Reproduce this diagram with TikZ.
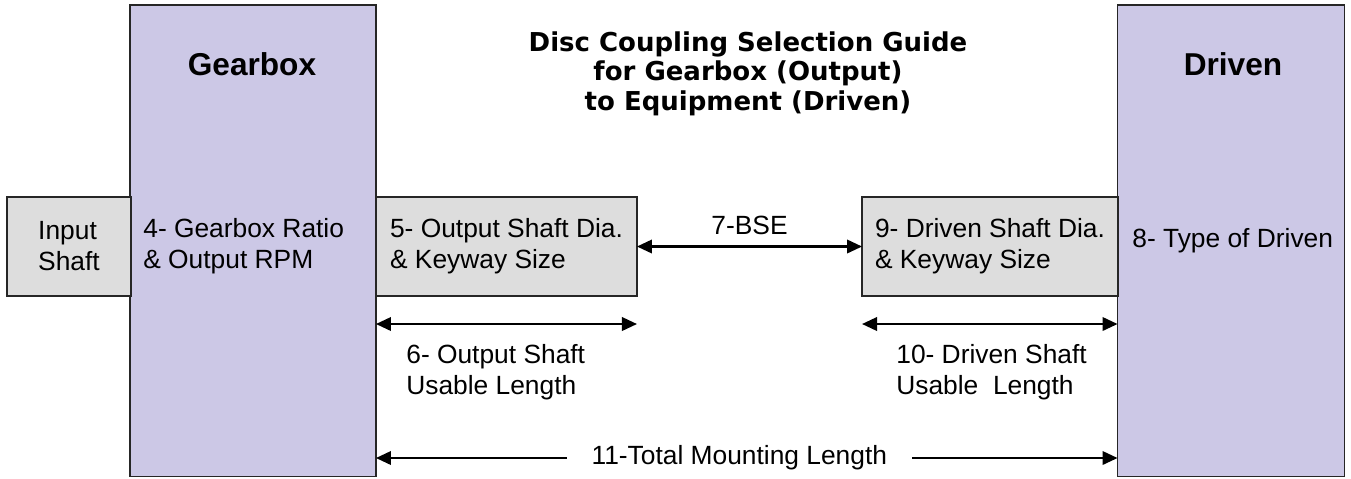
\documentclass[tikz,border=0pt]{standalone}
\usepackage{fontspec}
\setmainfont{Liberation Sans}
\newfontfamily\titlefont{DejaVu Sans}
\usetikzlibrary{arrows.meta,positioning}
\definecolor{housing}{RGB}{204,200,230}
\definecolor{shaftgray}{RGB}{221,221,221}
\newcommand{\bodyfont}{\fontsize{15}{17.6}\selectfont}

\begin{document}
\begin{tikzpicture}[x=0.02cm, y=-0.02cm, >={Triangle[length=3mm, width=2.7mm]},
  body/.style={rectangle, draw=black!85, line width=0.7pt, fill=housing,
               inner sep=0pt, outer sep=0pt, minimum height=9.43cm},
  shaft/.style={rectangle, draw=black!85, line width=0.7pt, fill=shaftgray,
               inner sep=0pt, outer sep=0pt, minimum height=1.98cm,
               align=left, font=\bodyfont},
  lbl/.style={inner sep=0pt, align=left, font=\bodyfont},
  dim/.style={<->, line width=1.2pt}]
  \useasboundingbox (0,0) rectangle (1351,478);

  % gearbox and driven bodies
  \node[body, minimum width=4.92cm] (gearbox) at (253,240.75) {};
  \node[body, minimum width=4.54cm] (driven) at (1231,240.75) {};
  \node[font=\fontsize{18}{21}\selectfont\bfseries, anchor=base] (gbhead) at (252,75) {Gearbox};
  \node[font=\fontsize{18}{21}\selectfont\bfseries, anchor=base] (drhead) at (1233,75) {Driven};
  \node[lbl, anchor=west] (ratio) at (143,246) {4- Gearbox Ratio\\\& Output RPM};
  \node[lbl, anchor=west] (drtype) at (1132,241) {8- Type of Driven};

  % shafts
  \node[shaft, minimum width=2.48cm] (inshaft) at (69,246.5) {Input\\Shaft};
  \node[shaft, minimum width=5.22cm] (outshaft) at (506.5,246.5)
    {5- Output Shaft Dia.\\\& Keyway Size};
  \node[shaft, minimum width=5.12cm] (drvshaft) at (990,246.5)
    {9- Driven Shaft Dia.\\\& Keyway Size};

  % title
  \node[font=\titlefont\fontsize{14.8}{16.8}\selectfont\bfseries,
        align=center, anchor=north, inner sep=0pt] (title) at (748,31)
    {Disc Coupling Selection Guide\\for Gearbox (Output)\\to Equipment (Driven)};

  % dimensions
  \coordinate (lvlsix) at (0,324);
  \coordinate (lvltot) at (0,458);
  \draw[dim] (outshaft.east) -- node[lbl, above=6pt] (bse) {7-BSE} (drvshaft.west);
  \draw[dim] (gearbox.east |- lvlsix) -- (outshaft.east |- lvlsix);
  \draw[dim] (drvshaft.west |- lvlsix) -- (driven.west |- lvlsix);
  \node[lbl, anchor=north west, font=\fontsize{15}{17.6}\selectfont] (oslen) at (406,344)
    {6- Output Shaft\\Usable Length};
  \node[lbl, anchor=north west, font=\fontsize{15}{17.6}\selectfont] (dslen) at (896,344)
    {10- Driven Shaft\\Usable\ \ Length};
  \draw[dim] (gearbox.east |- lvltot) -- node[pos=0.49, fill=white, font=\bodyfont,
    inner xsep=0.5cm, inner ysep=1pt] (total) {11-Total Mounting Length} (driven.west |- lvltot);
\end{tikzpicture}
\end{document}
